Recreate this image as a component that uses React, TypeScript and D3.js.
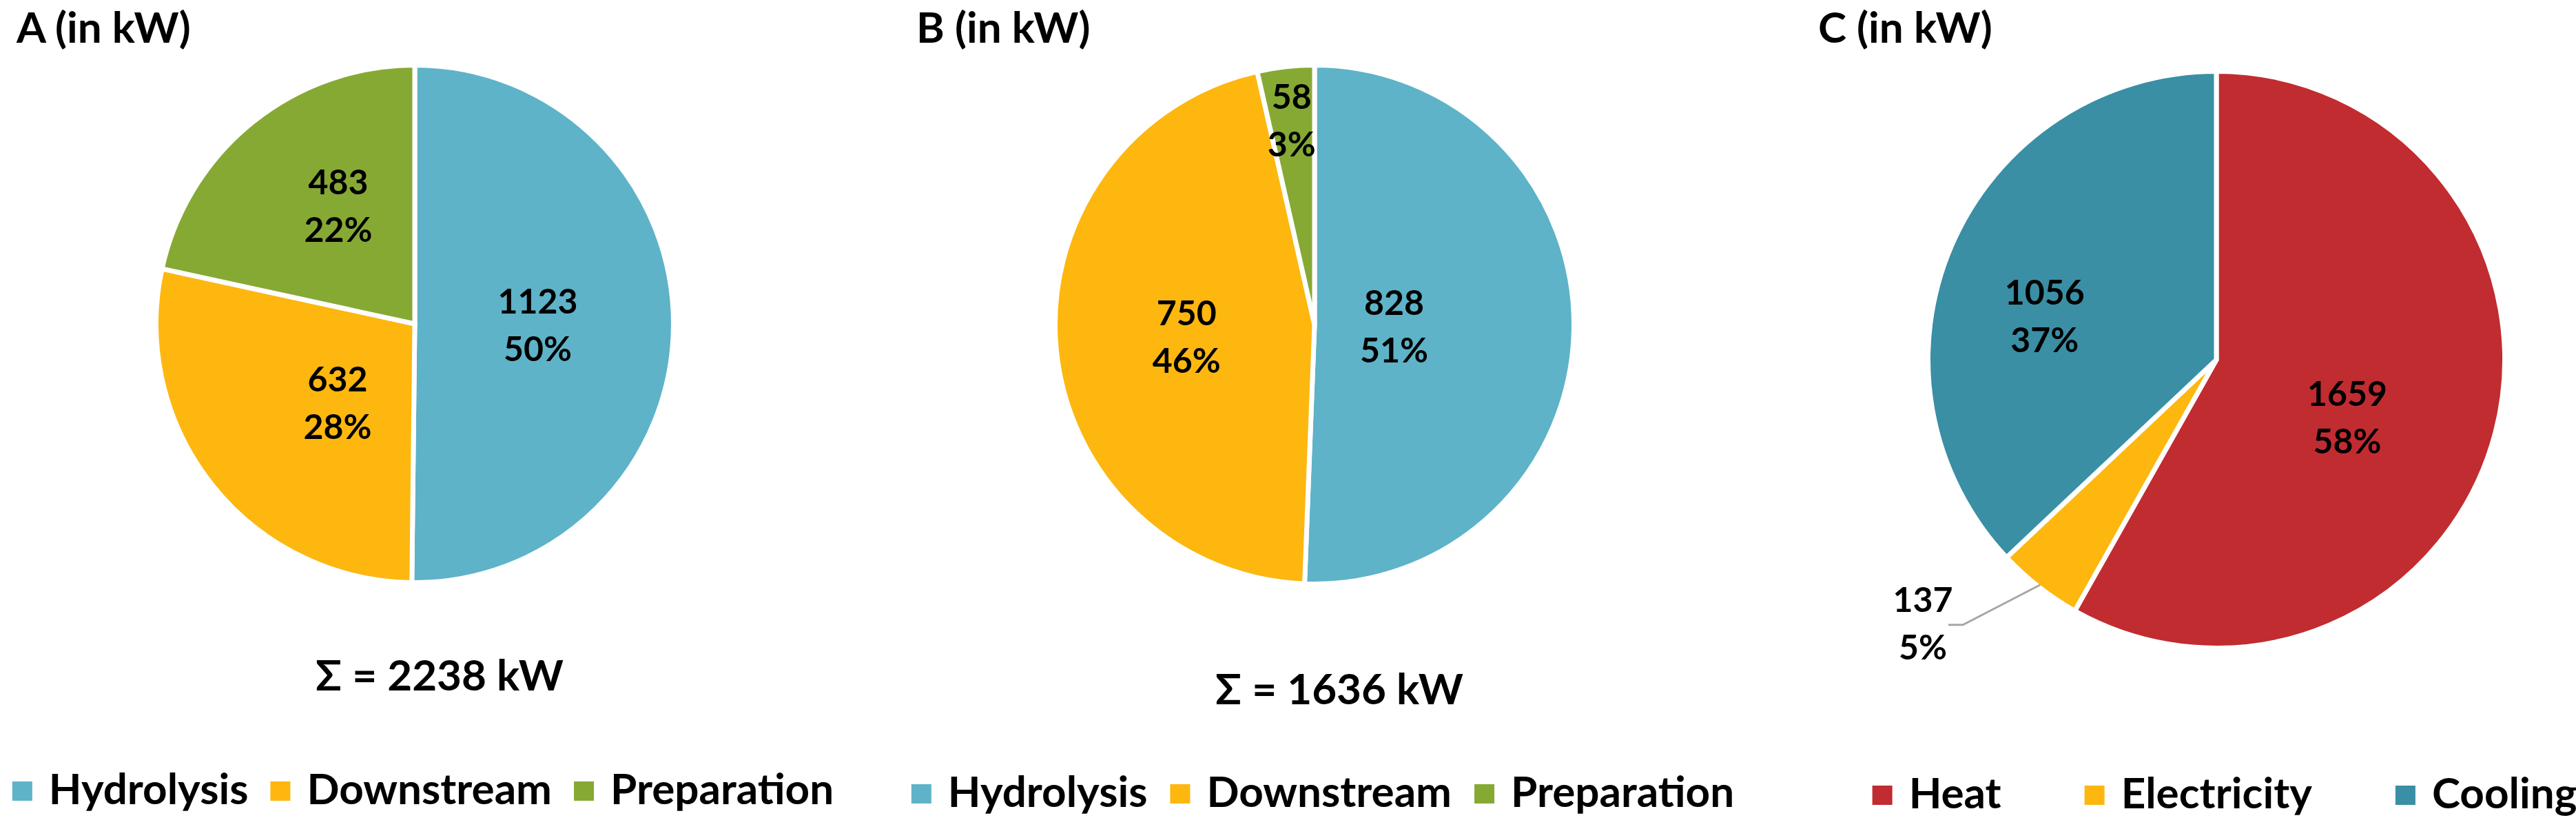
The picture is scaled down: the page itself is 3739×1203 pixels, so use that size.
import React, { useEffect, useRef } from 'react';
import * as d3 from 'd3';

// values (kW)
const processCategories = ['Hydrolysis', 'Downstream', 'Preparation'];
const valuesA = [1123, 632, 483];
const percentsA = [50, 28, 22];
const valuesB = [828, 750, 58];
const percentsB = [51, 46, 3];

const energyCategories = ['Heat', 'Electricity', 'Cooling'];
const valuesC = [1659, 137, 1056];
const percentsC = [58, 5, 37];

const processColors = ['#5eb3c8', '#fdb70f', '#86a934'];
const energyColors = ['#c12c30', '#fdb70f', '#3a8fa5'];

const WIDTH = 3739;
const HEIGHT = 1203;
const FONT = "Lato, 'Noto Sans', 'DejaVu Sans', sans-serif";

// label placement: fraction of radius + angle nudge (deg), or an outside label with a leader line
const charts = [
  {
    title: 'A (in kW)', categories: processCategories, values: valuesA, percents: percentsA,
    colors: processColors, cx: 602, cy: 470, r: 372,
    labels: [{ frac: 0.48 }, { frac: 0.43, shift: -7 }, { frac: 0.55, shift: 6 }],
    sumY: 1002, legendY: 1167, legendGap: 32,
  },
  {
    title: 'B (in kW)', categories: processCategories, values: valuesB, percents: percentsB,
    colors: processColors, cx: 1908, cy: 471, r: 373,
    labels: [{ frac: 0.31 }, { frac: 0.5 }, { frac: 0.8 }],
    sumY: 1022, legendY: 1171, legendGap: 33,
  },
  {
    title: 'C (in kW)', categories: energyCategories, values: valuesC, percents: percentsC,
    colors: energyColors, cx: 3217, cy: 522, r: 415,
    labels: [{ frac: 0.5, shift: 9 }, { frac: 1.38, shift: 10, outside: true }, { frac: 0.62, shift: -9 }],
    sumY: null, legendY: 1173, legendGap: 121,
  },
];

function drawChart(svg, c) {
  const g = svg.append('g');
  const gap = 7;

  const pie = d3.pie().sort(null).value(d => d);
  const arcs = pie(c.values);
  const arc = d3.arc().innerRadius(0).outerRadius(c.r + gap / 2);

  // title
  g.append('text')
    .attr('x', c.cx - 578)
    .attr('y', 62)
    .style('font-family', FONT)
    .style('font-weight', 700)
    .style('font-size', '62px')
    .text(c.title);

  const pieG = g.append('g').attr('transform', `translate(${c.cx},${c.cy})`);

  pieG.selectAll('path')
    .data(arcs)
    .enter()
    .append('path')
    .attr('d', arc)
    .style('fill', (d, i) => c.colors[i])
    .style('stroke', '#ffffff')
    .style('stroke-width', gap)
    .style('stroke-linejoin', 'miter');

  // data labels
  arcs.forEach((a, i) => {
    const lab = c.labels[i];
    const mid = (a.startAngle + a.endAngle) / 2;
    const ang = mid + ((lab.shift || 0) * Math.PI) / 180;
    const dist = lab.frac * c.r;
    const x = dist * Math.sin(ang);
    const y = -dist * Math.cos(ang);

    if (lab.outside) {
      const ex = c.r * Math.sin(mid);
      const ey = -c.r * Math.cos(mid);
      const line = d3.line();
      pieG.append('path')
        .attr('d', line([[ex, ey], [x + 58, y + 2], [x + 37, y + 2]]))
        .style('fill', 'none')
        .style('stroke', '#a6a6a6')
        .style('stroke-width', 3);
    }

    const t = pieG.append('text')
      .attr('text-anchor', 'middle')
      .style('font-family', FONT)
      .style('font-weight', 700)
      .style('font-size', '50px')
      .style('fill', '#000');
    t.append('tspan').attr('x', x).attr('y', y - 16.5).text(c.values[i]);
    t.append('tspan').attr('x', x).attr('y', y + 52.5).text(c.percents[i] + '%');
  });

  // total
  if (c.sumY) {
    g.append('text')
      .attr('x', c.cx + 36)
      .attr('y', c.sumY)
      .attr('text-anchor', 'middle')
      .style('font-family', FONT)
      .style('font-weight', 700)
      .style('font-size', '62px')
      .text(`Σ = ${d3.sum(c.values)} kW`);
  }

  // legend, centred under the pie
  const lg = g.append('g');
  let xPos = 0;
  c.categories.forEach((cat, i) => {
    lg.append('rect')
      .attr('x', xPos)
      .attr('y', c.legendY - 33)
      .attr('width', 29)
      .attr('height', 28)
      .style('fill', c.colors[i]);
    const t = lg.append('text')
      .attr('x', xPos + 53)
      .attr('y', c.legendY)
      .style('font-family', FONT)
      .style('font-weight', 700)
      .style('font-size', '62px')
      .text(cat);
    const w = t.node().getComputedTextLength();
    xPos += 53 + w + (i < c.categories.length - 1 ? c.legendGap : 0);
  });
  lg.attr('transform', `translate(${c.cx + 12 - xPos / 2},0)`);
}

export default function App() {
  const ref = useRef(null);

  useEffect(() => {
    const svg = d3.select(ref.current);
    svg.selectAll('*').remove();
    charts.forEach(c => drawChart(svg, c));
  }, []);

  return (
    <svg
      ref={ref}
      width={WIDTH}
      height={HEIGHT}
      viewBox={`0 0 ${WIDTH} ${HEIGHT}`}
      style={{ position: 'absolute', left: 0, top: 0, background: '#fff' }}
    />
  );
}
